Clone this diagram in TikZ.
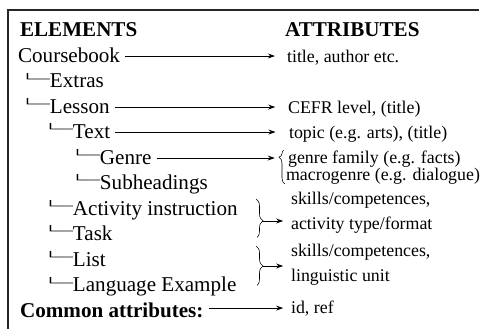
\documentclass[tikz,border=0pt]{standalone}
\usepackage{graphicx}
\usepackage{fontspec}
\setmainfont{Liberation Serif}
\usetikzlibrary{positioning}
\usetikzlibrary{arrows.meta}
\usetikzlibrary{decorations.pathreplacing}

% tree branch in front of an element
\newcommand{\branch}{\raisebox{3.9pt}{\scalebox{1}[0.47]{└─}}}

\begin{document}
\begin{tikzpicture}[
        > = {Stealth[length=5pt, width=3.5pt]}, % arrow head style
        shorten > = 1pt, % don't touch arrow head to node
        semithick, % line style
        elem/.style = {anchor=base west, font=\fontsize{15}{18}\selectfont,
                       text height=11.5pt, text depth=3pt},
        head/.style = {elem, font=\fontsize{15}{18}\selectfont\bfseries},
        attr/.style = {anchor=base west, font=\fontsize{12.7}{15.5}\selectfont,
                       text height=10pt, text depth=3pt},
        grp/.style = {decorate, thin, decoration={brace, amplitude=#1}}
        ]

  \useasboundingbox (0,0) rectangle (12,-8.225);

  % frame (only top and left edges show)
  \draw[line width=0.8pt, black!85] (0.2,-8.225) -- (0.2,-0.25) -- (12,-0.25);

  % elements
  \node[head] (elements) at (0.375,-0.9) {ELEMENTS};
  \node[elem] (book) at (0.325,-1.55) {Coursebook};
  \node[elem] (extras) at (0.375,-2.1875) {\branch Extras};
  \node[elem] (lesson) at (0.375,-2.825) {\branch Lesson};
  \node[elem] (text) at (0.95,-3.45) {\branch Text};
  \node[elem] (genre) at (1.625,-4.1) {\branch Genre};
  \node[elem] (subhead) at (1.625,-4.725) {\branch Subheadings};
  \node[elem] (activity) at (0.95,-5.375) {\branch Activity instruction};
  \node[elem] (task) at (0.95,-6.0) {\branch Task};
  \node[elem] (list) at (0.95,-6.65) {\branch List};
  \node[elem] (langex) at (0.95,-7.2875) {\branch Language Example};
  \node[head] (common) at (0.375,-7.925) {Common attributes:};

  % attributes
  \node[head] (attributes) at (7.0,-0.9) {ATTRIBUTES};
  \node[attr] (bookattr) at (7.05,-1.55) {title, author etc.};
  \node[attr] (lessonattr) at (7.075,-2.825) {CEFR level, (title)};
  \node[attr] (textattr) at (7.1,-3.45) {topic (e.g. arts), (title)};
  \node[attr] (genrefam) at (7.075,-4.075) {genre family (e.g. facts)};
  \node[attr] (macrogenre) at (7.025,-4.5125) {macrogenre (e.g. dialogue)};
  \node[attr] (skillsA) at (7.15,-5.1) {skills/competences,};
  \node[attr] (typeA) at (7.15,-5.725) {activity type/format};
  \node[attr] (skillsB) at (7.15,-6.4) {skills/competences,};
  \node[attr] (unitB) at (7.15,-7.025) {linguistic unit};
  \node[attr] (commonattr) at (7.15,-7.825) {id, ref};

  % braces
  \draw[grp=4.3pt, decoration={aspect=0.79}] (7.125,-4.6) -- (7.125,-3.75);
  \draw[grp=5pt, decoration={aspect=0.56}] (6.4,-4.975) -- (6.4,-5.95);
  \draw[grp=5pt, decoration={aspect=0.5}] (6.4,-6.15) -- (6.4,-7.15);
  \coordinate (gcusp) at (6.975,-3.925);
  \coordinate (cuspA) at (6.575,-5.525);
  \coordinate (cuspB) at (6.575,-6.65);

  \draw[->, shorten >=5pt] (book.east) -- (book.east -| bookattr.west);
  \draw[->, shorten >=5.5pt] (lesson.east) -- (lesson.east -| lessonattr.west);
  \draw[->, shorten >=6pt] (text.east) -- (text.east -| textattr.west);
  \draw[->, shorten >=3pt] (genre.east) -- (genre.east -| gcusp);
  \draw[->, shorten >=2pt] (cuspA) -- (cuspA -| skillsA.west);
  \draw[->, shorten >=2pt] (cuspB) -- (cuspB -| skillsB.west);
  \draw[->, shorten >=2pt] (common.east |- commonattr.west) -- (commonattr.west);

\end{tikzpicture}
\end{document}
